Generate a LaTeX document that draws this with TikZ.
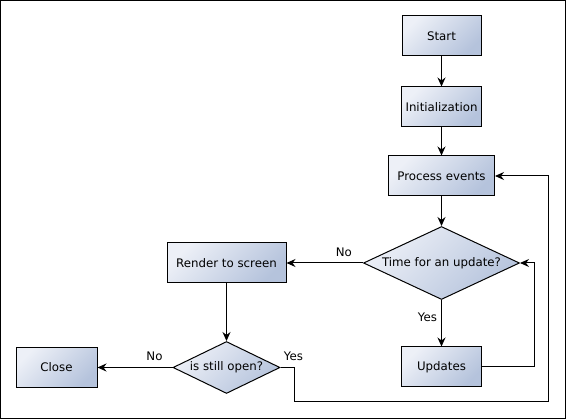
\documentclass[tikz,border=0pt]{standalone}
\usepackage{fontspec}
\setmainfont{DejaVu Sans}
\usetikzlibrary{shapes.geometric,arrows.meta}
\definecolor{boxlight}{HTML}{EDF0F7}
\definecolor{boxdark}{HTML}{B5C3DC}
\begin{document}
\begin{tikzpicture}[x=1pt,y=-1pt,
  font=\fontsize{11.8}{14}\selectfont,
  box/.style={draw=black, line width=1pt, top color=boxlight, bottom color=boxdark, shading angle=45, inner sep=0pt, minimum height=40pt},
  dia/.style={diamond, draw=black, line width=1pt, top color=boxlight, bottom color=boxdark, shading angle=45, inner sep=0pt},
  conn/.style={line width=1pt, -{Stealth[length=9pt,width=8pt,inset=3pt]}},
  lbl/.style={inner sep=0pt, font=\fontsize{11.8}{14}\selectfont}]
\useasboundingbox (0,0) rectangle (566,419);
\draw[line width=1pt] (0.5,0.5) rectangle (565.5,418.5);

\node[box, minimum width=79pt] (start) at (441.5,36) {Start};
\node[box, minimum width=80pt] (init) at (441.5,107) {Initialization};
\node[box, minimum width=106pt] (proc) at (441.5,176) {Process events};
\node[dia, minimum width=156pt, minimum height=73pt] (time) at (441.5,263) {\makebox[0pt]{Time for an update?}};
\node[box, minimum width=80pt] (upd) at (441.5,367) {Updates};
\node[box, minimum width=119pt] (render) at (226.5,263) {Render to screen};
\node[dia, minimum width=107pt, minimum height=52pt] (open) at (226.5,367.5) {\makebox[0pt]{is still open?}};
\node[box, minimum width=81pt] (close) at (56.5,367.5) {Close};
\coordinate (loopr) at (548,402);

\draw[conn] (start) -- (init);
\draw[conn] (init) -- (proc);
\draw[conn] (proc) -- (time);
\draw[conn] (time.west) -- node[lbl, pos=0.25, above=6pt] {No} (render.east);
\draw[conn] (time.south) -- node[lbl, pos=0.38, left=4pt] {Yes} (upd.north);
\draw[conn] (upd.east) -- ++(52,0) |- (time.east);
\draw[conn] (render) -- (open);
\draw[conn] (open.west) -- node[lbl, pos=0.24, above=6pt] {No} (close.east);
\draw[conn] (open.east) node[lbl, above=6pt, xshift=13pt] {Yes} -- ++(14,0) |- (loopr) |- (proc.east);
\end{tikzpicture}
\end{document}
